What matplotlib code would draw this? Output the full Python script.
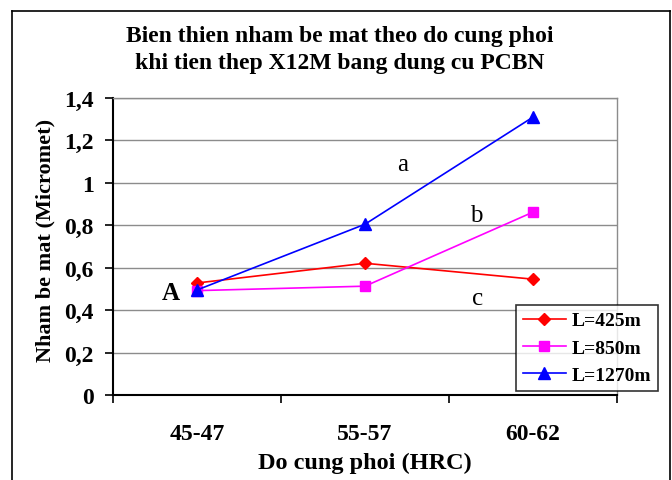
import matplotlib
matplotlib.use("Agg")
import matplotlib.pyplot as plt
from matplotlib.lines import Line2D

# Hardness groups (HRC) and measured surface roughness (micrometre)
hardness = ["45-47", "55-57", "60-62"]
rough_425 = [0.528, 0.621, 0.546]
rough_850 = [0.492, 0.513, 0.862]
rough_1270 = [0.495, 0.805, 1.31]
series_labels = ["L=425m", "L=850m", "L=1270m"]
y_ticks = [0, 0.2, 0.4, 0.6, 0.8, 1.0, 1.2, 1.4]
y_tick_labels = ["0", "0,2", "0,4", "0,6", "0,8", "1", "1,2", "1,4"]

SERIF = "Liberation Serif"
W, H = 672, 481
fig = plt.figure(figsize=(W / 100, H / 100), dpi=100)
fig.patch.set_facecolor("white")

# outer chart frame
frame_kw = dict(color="black", lw=1.2, transform=fig.transFigure)
fig.add_artist(Line2D([12 / W, 12 / W], [0, 1 - 12 / H], **frame_kw))
fig.add_artist(Line2D([12 / W, 670 / W], [1 - 12 / H, 1 - 12 / H], **frame_kw))
fig.add_artist(Line2D([670 / W, 670 / W], [0, 1 - 12 / H], **frame_kw))

left, right, top, bottom = 113, 617, 99, 396
ax = fig.add_axes([left / W, 1 - bottom / H, (right - left) / W, (bottom - top) / H])

x = list(range(len(hardness)))
ax.plot(x, rough_425, color="#ff0000", lw=1.2, marker="D", ms=6,
        label=series_labels[0], zorder=3)
ax.plot(x, rough_850, color="#ff00ff", lw=1.2, marker="s", ms=6.5,
        label=series_labels[1], zorder=3)
ax.plot(x, rough_1270, color="#0000ff", lw=1.2, marker="^", ms=8,
        label=series_labels[2], zorder=4)

ax.set_xlim(-0.5, len(hardness) - 0.5)
ax.set_ylim(0, 1.4)

ax.set_yticks(y_ticks)
ax.set_yticklabels(y_tick_labels, fontfamily=SERIF, fontweight="bold", fontsize=17)
ax.yaxis.grid(True, color="#8c8c8c", lw=1)
ax.set_axisbelow(True)

ax.set_xticks([i - 0.5 for i in range(len(hardness) + 1)])
ax.set_xticklabels([])
ax.set_xticks(x, minor=True)
ax.set_xticklabels(hardness, minor=True, fontfamily=SERIF, fontweight="bold", fontsize=17)
ax.tick_params(axis="x", which="major", direction="out", length=5.5, width=1.2, color="black")
ax.tick_params(axis="x", which="minor", length=0, pad=20)
ax.tick_params(axis="y", direction="out", length=6, width=1.2, color="black", pad=8)

for side in ("top", "right"):
    ax.spines[side].set_color("#8c8c8c")
    ax.spines[side].set_linewidth(1)
for side in ("left", "bottom"):
    ax.spines[side].set_color("black")
    ax.spines[side].set_linewidth(1.5)

ax.set_xlabel("Do cung phoi (HRC)", fontfamily=SERIF, fontweight="bold", fontsize=17.5, labelpad=6)
ax.set_ylabel("Nham be mat (Micromet)", fontfamily=SERIF, fontweight="bold", fontsize=16)
ax.yaxis.set_label_coords(-0.114, 0.525)

fig.text(340 / W, 1 - 50 / H,
         "Bien thien nham be mat theo do cung phoi\nkhi tien thep X12M bang dung cu PCBN",
         ha="center", va="center", fontfamily=SERIF, fontweight="bold", fontsize=17,
         linespacing=1.42)

# curve labels
ax.text(1.226, 1.09, "a", ha="center", va="center", fontfamily=SERIF, fontsize=18)
ax.text(1.66, 0.85, "b", ha="center", va="center", fontfamily=SERIF, fontsize=18)
ax.text(1.67, 0.455, "c", ha="center", va="center", fontfamily=SERIF, fontsize=18)
ax.text(-0.155, 0.485, "A", ha="center", va="center", fontfamily=SERIF,
        fontweight="bold", fontsize=18)

leg = ax.legend(loc="upper left", bbox_to_anchor=(516 / W, 1 - 306 / H),
                bbox_transform=fig.transFigure, frameon=True, fancybox=False,
                prop=dict(family=SERIF, weight="bold", size=14),
                handlelength=2.2, handletextpad=0.3, labelspacing=0.5,
                borderpad=0.35, borderaxespad=0)
leg.get_frame().set_edgecolor("black")
leg.get_frame().set_linewidth(1.2)
leg.set_zorder(10)

fig.savefig("out.png", dpi=100)
